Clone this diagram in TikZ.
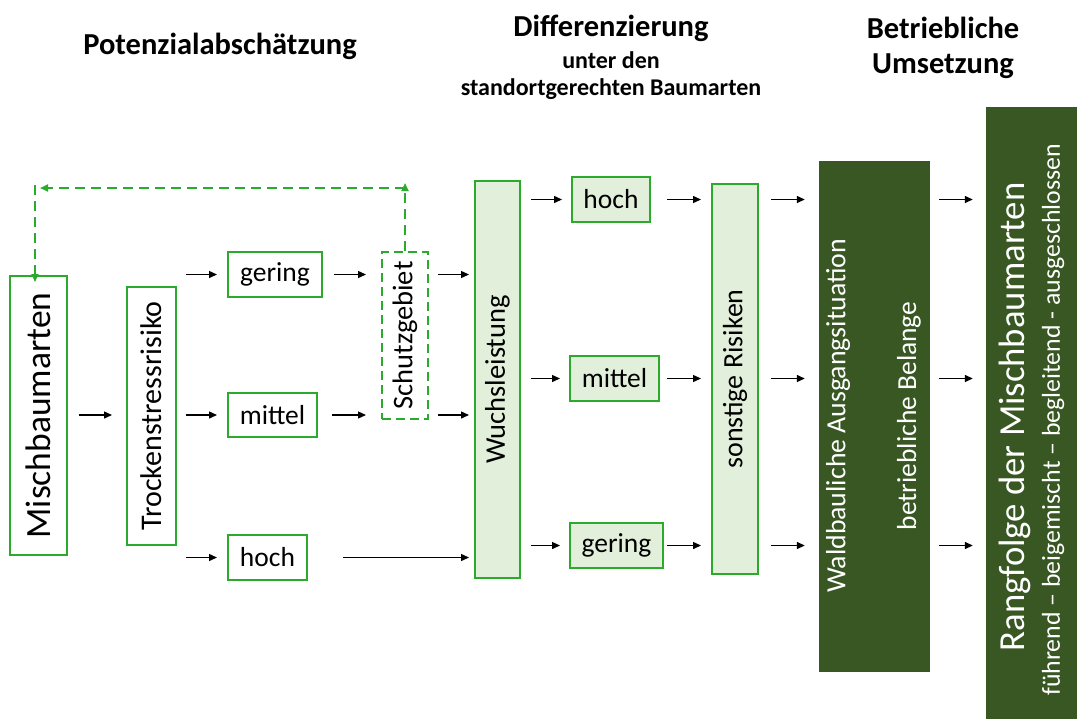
\documentclass[tikz,border=0pt]{standalone}
\usepackage{fontspec}
\setmainfont{Carlito}
\usetikzlibrary{arrows.meta}
\definecolor{gline}{RGB}{44,170,44}
\definecolor{lfill}{RGB}{226,239,218}
\definecolor{dfill}{RGB}{56,87,35}
\tikzset{
  box/.style={draw=gline, line width=2pt, inner sep=0pt, font=\fontsize{27.5}{30}\selectfont},
  lbox/.style={box, fill=lfill},
  dbox/.style={fill=dfill, draw=none, inner sep=0pt},
  arr/.style={draw=black, line width=1.4pt, -{Triangle[length=8pt,width=7pt]}},
  garr/.style={draw=gline, line width=2pt, dash pattern=on 10pt off 6pt, -{Triangle[length=8pt,width=7pt]}},
  head/.style={font=\bfseries\fontsize{30.5}{33}\selectfont, inner sep=0pt},
  subhead/.style={font=\bfseries\fontsize{24}{26}\selectfont, inner sep=0pt},
  wtext/.style={text=white, inner sep=0pt}
}
\begin{document}
\begin{tikzpicture}[x=1pt,y=-1pt]
\useasboundingbox (0,0) rectangle (1081,718);
% headers
\node[head] (h1) at (220,46) {Potenzialabschätzung};
\node[head] (h2) at (611,28) {Differenzierung};
\node[subhead] (h3) at (611,60) {unter den};
\node[subhead] (h4) at (611,89) {standortgerechten Baumarten};
\node[head] (h5) at (943,28) {Betriebliche};
\node[head] (h6) at (943,66) {Umsetzung};
% left boxes
\node[box, minimum width=57pt, minimum height=279pt] (misch) at (38.5,415.5) {\rotatebox{90}{\fontsize{35.5}{38}\selectfont Mischbaumarten}};
\node[box, minimum width=49pt, minimum height=258pt] (trocken) at (151.5,416) {\rotatebox{90}{\fontsize{30}{32}\selectfont Trockenstressrisiko}};
\node[box, minimum width=94pt, minimum height=45pt] (gering1) at (275,274.5) {gering};
\node[box, minimum width=89pt, minimum height=44pt] (mittel1) at (272.5,415) {mittel};
\node[box, minimum width=79pt, minimum height=45pt] (hoch1) at (267.5,557.5) {hoch};
\node[box, dash pattern=on 9pt off 5pt, minimum width=46pt, minimum height=167pt] (schutz) at (405,335.5) {\rotatebox{90}{\fontsize{28.5}{30}\selectfont Schutzgebiet}};
% middle
\node[lbox, minimum width=45pt, minimum height=397pt] (wuchs) at (497.5,379.5) {\rotatebox{90}{\fontsize{28.5}{30}\selectfont Wuchsleistung}};
\node[lbox, minimum width=78pt, minimum height=45pt] (hoch2) at (611,199.5) {hoch};
\node[lbox, minimum width=89pt, minimum height=45pt] (mittel2) at (614.5,378.5) {mittel};
\node[lbox, minimum width=93pt, minimum height=45pt] (gering2) at (616.5,545.5) {gering};
\node[lbox, minimum width=46pt, minimum height=390pt] (sonst) at (735,379) {\rotatebox{90}{\fontsize{28}{30}\selectfont sonstige Risiken}};
% dark boxes
\node[dbox, minimum width=111pt, minimum height=511pt] (dark1) at (874.5,416.5) {};
\node[wtext] (d1a) at (838,416) {\rotatebox{90}{\fontsize{27.8}{30}\selectfont Waldbauliche Ausgangsituation}};
\node[wtext] (d1b) at (909,416) {\rotatebox{90}{\fontsize{27.5}{30}\selectfont betriebliche Belange}};
\node[dbox, minimum width=91pt, minimum height=615pt] (dark2) at (1031.5,414.5) {};
\node[wtext] (d2a) at (1015,417) {\rotatebox{90}{\fontsize{36.7}{40}\selectfont Rangfolge der Mischbaumarten}};
\node[wtext] (d2b) at (1053,420) {\rotatebox{90}{\fontsize{25.8}{28}\selectfont führend – beigemischt – begleitend - ausgeschlossen}};
% arrows left part
\draw[arr] ([xshift=11pt]misch.east |- mittel1) -- ([xshift=-14pt]trocken.west |- mittel1);
\draw[arr] ([xshift=9pt]trocken.east |- gering1) -- ([xshift=-10pt]gering1.west);
\draw[arr] ([xshift=9pt]trocken.east |- mittel1) -- ([xshift=-10pt]mittel1.west);
\draw[arr] ([xshift=9pt]trocken.east |- hoch1) -- ([xshift=-10pt]hoch1.west);
\draw[arr] ([xshift=11pt]gering1.east) -- ([xshift=-15pt]schutz.west |- gering1);
\draw[arr] ([xshift=-49pt]schutz.west |- mittel1) -- ([xshift=-15pt]schutz.west |- mittel1);
\draw[arr] ([xshift=9pt]schutz.east |- gering1) -- ([xshift=-5pt]wuchs.west |- gering1);
\draw[arr] ([xshift=9pt]schutz.east |- mittel1) -- ([xshift=-5pt]wuchs.west |- mittel1);
\draw[arr] ([xshift=35pt]hoch1.east) -- ([xshift=-5pt]wuchs.west |- hoch1);
% arrows middle
\foreach \n in {hoch2,mittel2,gering2}{
  \draw[arr] ([xshift=10pt]wuchs.east |- \n.west) -- ([xshift=-9pt]\n.west);
  \draw[arr] ([xshift=-44pt]sonst.west |- \n.west) -- ([xshift=-10pt]sonst.west |- \n.west);
  \draw[arr] ([xshift=12pt]sonst.east |- \n.west) -- ([xshift=-14pt]dark1.west |- \n.west);
  \draw[arr] ([xshift=9pt]dark1.east |- \n.west) -- ([xshift=-13pt]dark2.west |- \n.west);
}
% dashed feedback
\coordinate (c1) at (405,188);
\coordinate (c2) at (35,188);
\draw[garr] (schutz.north) -- ([yshift=5pt]c1);
\draw[garr] (c1) -- ([xshift=5pt]c2);
\draw[garr] ([yshift=3pt]c2) -- ([yshift=-7pt]c2 |- misch.north);
\end{tikzpicture}
\end{document}
